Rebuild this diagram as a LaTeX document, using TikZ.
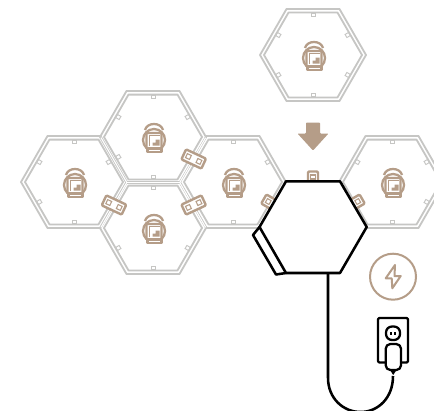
\documentclass[tikz,border=0pt]{standalone}
\definecolor{tan}{HTML}{B59D88}
\definecolor{hexgray}{HTML}{C6C6C4}
\tikzset{
  px/.style={x=0.75pt,y=-0.75pt},
  hexline/.style={draw=hexgray,line width=1.35pt,line join=round},
  pegmark/.style={draw=hexgray,line width=0.7pt},
  iconline/.style={draw=tan,line width=1.7pt,line join=round},
  tabbox/.style={draw=tan,fill=white,line width=1.8pt,line join=round},
  tabdot/.style={draw=tan,line width=0.8pt,fill=white},
  blackline/.style={draw=black,line width=1.9pt,line join=round},
  thinblack/.style={draw=black,line width=1.7pt,line join=round,rounded corners=1pt},
  gapline/.style={draw=white,line width=0.8pt},
}
\newcommand{\gcell}[2]{%
  \begin{scope}[shift={(#1,#2)}]
    \draw[hexline] (-53,0) -- (-26.5,-46) -- (26.5,-46) -- (53,0) -- (26.5,46) -- (-26.5,46) -- cycle;
    \draw[hexline] (-49,0) -- (-24.5,-42.4) -- (24.5,-42.4) -- (49,0) -- (24.5,42.4) -- (-24.5,42.4) -- cycle;
    \foreach \a/\b/\r in {0/-40/0,0/40/0,-34.7/-20/-30,34.7/-20/30,-34.7/20/30,34.7/20/-30}{
      \draw[pegmark,rotate around={\r:(\a,\b)}] (\a-2,\b-1.8) rectangle (\a+2,\b+1.8);
    }
    % icon
    \draw[iconline] (-8,-7) .. controls (-6,-15) and (8,-15) .. (10,-7);
    \draw[iconline] (1,3) circle (11);
    \draw[iconline,fill=white,rounded corners=0.6pt] (-6.5,-4) rectangle (8.5,11.5);
    \draw[iconline,fill=white] (-5.5,11.5) rectangle (8.5,15);
    \fill[tan] (2.5,2.5) -- (6.5,2.5) -- (6.5,8.5) -- (-0.5,8.5) -- (-0.5,5.5) -- (2.5,5.5) -- cycle;
    \draw[tan,line width=0.7pt] (-3.5,9) -- (-3.5,-1.5) -- (6.5,-1.5);
  \end{scope}}
\newcommand{\tabbar}[3]{%
  \begin{scope}[shift={(#1,#2)},rotate=#3]
    \draw[tabbox,rounded corners=0.8pt] (-11,-5.5) rectangle (11,5.5);
    \draw[tabdot] (-8,-2.2) rectangle (-3.6,2.2);
    \draw[tabdot] (3.6,-2.2) rectangle (8,2.2);
  \end{scope}}
\begin{document}
\begin{tikzpicture}[px]
\useasboundingbox (0,0) rectangle (434,410);
\fill[white] (0,0) rectangle (434,410);
\clip (0,0) rectangle (434,410);
\gcell{313}{55}
\gcell{74}{182}
\gcell{153}{137}
\gcell{153}{228}
\gcell{233}{182}
\gcell{392}{182}
% shared edges of neighbouring cells
\coordinate (jl) at (126.8,182.5);
\coordinate (jr) at (179.8,182.5);
\coordinate (ltop) at (101,137.7);
\coordinate (lbot) at (101,227.3);
\coordinate (rtop) at (205.6,137.7);
\coordinate (rbot) at (205.6,227.3);
\draw[gapline] (jl) -- (jr);
\draw[gapline] (ltop) -- (jl) -- (lbot);
\draw[gapline] (rtop) -- (jr) -- (rbot);
\tabbar{114}{205}{-25}
\tabbar{193.7}{159}{-25}
\tabbar{193.7}{205}{25}
% tabs under the black hexagon
\begin{scope}[shift={(313,181)}]
  \draw[tabbox,rounded corners=0.8pt] (-5,-9.5) rectangle (5,6);
  \draw[tabdot] (-2.2,-6) rectangle (2.2,-2);
\end{scope}
\begin{scope}[shift={(272.5,204)},rotate=-30]
  \draw[tabbox,rounded corners=0.8pt] (-10,-5.2) rectangle (6,5.2);
  \draw[tabdot] (-7,-2.2) rectangle (-2.8,2.2);
\end{scope}
\begin{scope}[shift={(353.5,204)},rotate=30]
  \draw[tabbox,rounded corners=0.8pt] (-6,-5.2) rectangle (10,5.2);
  \draw[tabdot] (2.8,-2.2) rectangle (7,2.2);
\end{scope}
% arrow
\fill[tan,rounded corners=0.6pt] (306,122.5) -- (320,122.5) -- (320,133.5) -- (328.5,133.5) -- (313,150.5) -- (297.5,133.5) -- (306,133.5) -- cycle;
% cord
\draw[blackline] (328,273) -- (328,378) .. controls (328,398) and (343,412) .. (360.5,412) .. controls (378,412) and (393,398) .. (393,376);
% black hexagon
\draw[blackline,fill=white] (259.5,227) -- (253,235) -- (276,274.5) -- (286,273);
\draw[blackline,fill=white] (286,181.3) -- (340,181.3) -- (366.7,227) -- (340,273) -- (286,273) -- (259.5,227) -- cycle;
% power badge
\draw[draw=tan,line width=1.5pt] (393,276.7) circle (23);
\draw[draw=tan,line width=1.5pt,line join=round] (395,265) -- (385.7,278.3) -- (391.7,278.3) -- (392.3,288.3) -- (400.7,276) -- (394.5,276) -- cycle;
% socket
\draw[thinblack] (378,318) rectangle (408,362.5);
\draw[thinblack,rounded corners=4.5pt] (386,326.5) rectangle (400,340);
\fill[black] (390.3,331.5) rectangle (391.8,335);
\fill[black] (394.2,331.5) rectangle (395.7,335);
% plug
\draw[thinblack,fill=white,rounded corners=3.5pt] (385.7,344) rectangle (401,370);
\fill[black] (390,370) -- (396.5,370) -- (393.2,375) -- cycle;
\end{tikzpicture}
\end{document}
